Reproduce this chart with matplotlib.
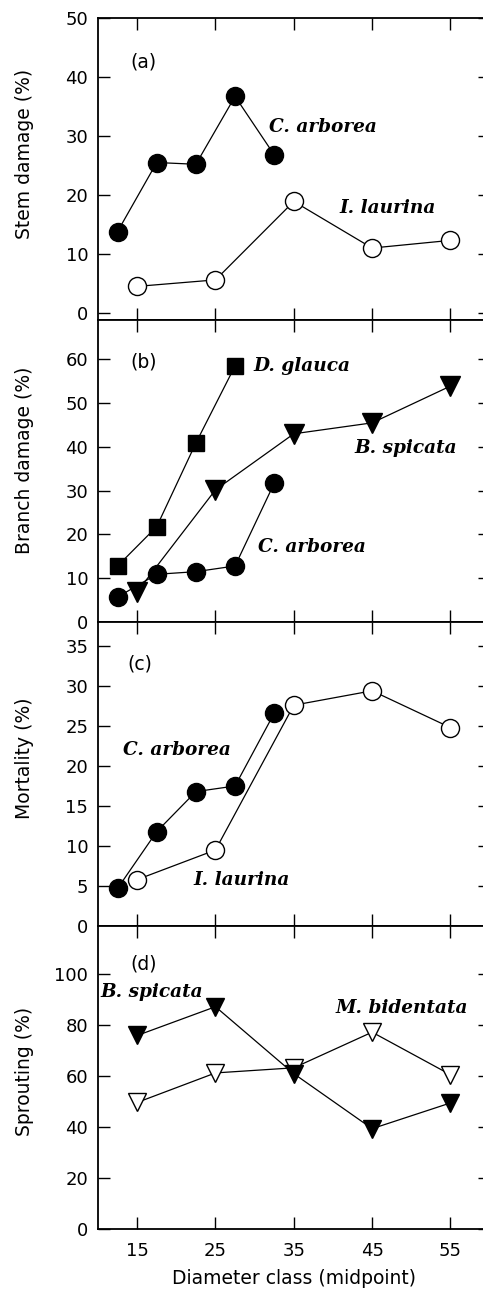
import matplotlib
matplotlib.use("Agg")
import matplotlib.pyplot as plt

# ---------------- data ----------------
x_half = [12.5, 17.5, 22.5, 27.5, 32.5]
x_full = [15, 25, 35, 45, 55]

# (a) stem damage
stem_arborea = [13.8, 25.5, 25.2, 36.7, 26.8]
stem_laurina = [4.5, 5.6, 18.9, 11.0, 12.3]

# (b) branch damage
branch_glauca = [12.8, 21.8, 40.9, 58.5]
branch_spicata = [6.9, 30.2, 43.0, 45.5, 53.9]
branch_arborea = [5.7, 10.9, 11.5, 12.8, 31.7]

# (c) mortality
mort_arborea = [4.7, 11.8, 16.8, 17.5, 26.6]
mort_laurina = [5.8, 9.5, 27.6, 29.4, 24.8]

# (d) sprouting
sprout_spicata = [76.0, 87.3, 61.0, 39.4, 49.5]
sprout_bidentata = [49.7, 61.3, 63.3, 77.3, 60.6]

xticks = [15, 25, 35, 45, 55]

plt.rcParams['font.family'] = ['DejaVu Sans']
W, H = 483, 1291
fig = plt.figure(figsize=(W / 100, H / 100), dpi=100)

left = 98 / W
width = (489.6 - 98) / W
# (top px, bottom px) of each panel
rows = [(18, 320), (320, 622), (622, 926), (926, 1229)]
axes = []
for top, bot in rows:
    ax = fig.add_axes([left, 1 - bot / H, width, (bot - top) / H])
    axes.append(ax)

lab_font = dict(family='DejaVu Serif', style='italic', weight='bold', fontsize=13.3)
lw = 0.9
fs = 13


def style(ax, ylim, yticks, ylabel, ylab_y):
    ax.set_xlim(10, 60)
    ax.set_ylim(*ylim)
    ax.set_xticks(xticks)
    ax.set_yticks(yticks)
    ax.tick_params(direction='in', top=True, right=True, length=8.5,
                   width=1.0, labelsize=fs, pad=7)
    ax.tick_params(axis='x', pad=9)
    for s in ax.spines.values():
        s.set_linewidth(1.3)
    ax.text(-0.187, ylab_y, ylabel, transform=ax.transAxes, rotation=90,
            ha='center', va='center', fontsize=13.5)


def filled(ax, x, y, m, ms):
    ax.plot(x, y, color='black', lw=lw, marker=m, ms=ms, mfc='black',
            mec='black', zorder=3)


def hollow(ax, x, y, m, ms):
    ax.plot(x, y, color='black', lw=lw, marker=m, ms=ms, mfc='white',
            mec='black', mew=1.0, zorder=2)


# (a)
ax = axes[0]
filled(ax, x_half, stem_arborea, 'o', 13)
hollow(ax, x_full, stem_laurina, 'o', 13)
ax.text(31.8, 31.5, 'C. arborea', va='center', **lab_font)
ax.text(40.8, 17.8, 'I. laurina', va='center', **lab_font)
ax.text(14.1, 42.6, '(a)', va='center', fontsize=13.5)
style(ax, (-1.2, 50), [0, 10, 20, 30, 40, 50], 'Stem damage (%)', 0.55)
ax.tick_params(labelbottom=False)

# (b)
ax = axes[1]
filled(ax, x_half[:4], branch_glauca, 's', 11)
filled(ax, x_full, branch_spicata, 'v', 14)
filled(ax, x_half, branch_arborea, 'o', 13)
ax.text(29.8, 58.5, 'D. glauca', va='center', **lab_font)
ax.text(42.8, 39.8, 'B. spicata', va='center', **lab_font)
ax.text(30.4, 17.1, 'C. arborea', va='center', **lab_font)
ax.text(14.1, 59.3, '(b)', va='center', fontsize=13.5)
style(ax, (0, 69), [0, 10, 20, 30, 40, 50, 60], 'Branch damage (%)', 0.535)
ax.tick_params(labelbottom=False)

# (c)
ax = axes[2]
hollow(ax, x_full, mort_laurina, 'o', 13)
filled(ax, x_half, mort_arborea, 'o', 13)
ax.text(13.15, 22.0, 'C. arborea', va='center', **lab_font)
ax.text(22.2, 5.8, 'I. laurina', va='center', **lab_font)
ax.text(13.8, 32.7, '(c)', va='center', fontsize=13.5)
style(ax, (0, 38), [0, 5, 10, 15, 20, 25, 30, 35], 'Mortality (%)', 0.553)
ax.tick_params(labelbottom=False)

# (d)
ax = axes[3]
hollow(ax, x_full, sprout_bidentata, 'v', 13)
filled(ax, x_full, sprout_spicata, 'v', 13)
ax.text(10.25, 93.0, 'B. spicata', va='center', **lab_font)
ax.text(40.3, 86.9, 'M. bidentata', va='center', **lab_font)
ax.text(14.1, 104, '(d)', va='center', fontsize=13.5)
style(ax, (0, 119), [0, 20, 40, 60, 80, 100], 'Sprouting (%)', 0.52)
ax.set_xlabel('Diameter class (midpoint)', fontsize=13.5, labelpad=7)

fig.savefig('out.png', dpi=100)
